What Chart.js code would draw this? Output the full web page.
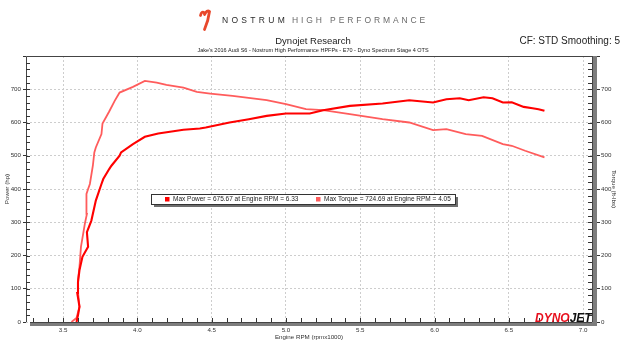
<!DOCTYPE html>
<html>
<head>
<meta charset="utf-8">
<script src="https://cdn.jsdelivr.net/npm/chart.js@4.4.1/dist/chart.umd.min.js"></script>
<style>
  html, body { margin: 0; padding: 0; background: #fff; }
  #wrap { width: 624px; height: 351px; }
</style>
</head>
<body>
<div id="wrap"><canvas id="mycanvas" width="624" height="351"></canvas></div>
<script>
// values (rpm x1000)
var powerRpm = [3.59, 3.60, 3.61, 3.595, 3.60, 3.61, 3.63, 3.668, 3.66, 3.69, 3.72, 3.758, 3.77, 3.81, 3.825, 3.88, 3.89, 3.97, 4.05, 4.14, 4.31, 4.42, 4.46, 4.62, 4.75, 4.87, 5.0, 5.16, 5.25, 5.43, 5.65, 5.83, 5.99, 6.08, 6.17, 6.23, 6.33, 6.39, 6.46, 6.52, 6.60, 6.66, 6.70, 6.74];
var power    = [0, 20, 46, 87, 120, 156, 196, 226, 270, 305, 365, 415, 430, 460, 470, 500, 510, 535, 557, 567, 578, 582, 585, 600, 610, 620, 627, 627, 637, 650, 657, 667, 660, 670, 673, 667, 676, 673, 660, 661, 647, 643, 640, 635];

var torqueRpm = [3.556, 3.59, 3.61, 3.60, 3.60, 3.61, 3.62, 3.646, 3.66, 3.657, 3.668, 3.68, 3.70, 3.71, 3.72, 3.758, 3.765, 3.81, 3.847, 3.88, 3.97, 4.05, 4.13, 4.195, 4.31, 4.40, 4.49, 4.64, 4.87, 5.0, 5.135, 5.25, 5.43, 5.65, 5.83, 5.99, 6.08, 6.21, 6.32, 6.46, 6.52, 6.61, 6.74];
var torque    = [0, 12, 46, 90, 126, 166, 226, 295, 325, 385, 400, 415, 470, 510, 525, 565, 597, 633, 665, 690, 707, 725, 720, 713, 705, 692, 687, 680, 667, 655, 640, 637, 625, 610, 600, 577, 580, 565, 560, 535, 530, 515, 495];

var xTicks = [3.5, 4.0, 4.5, 5.0, 5.5, 6.0, 6.5, 7.0];
var legendLabels = ["Max Power = 675.67 at Engine RPM = 6.33", "Max Torque = 724.69 at Engine RPM = 4.05"];

var titleText = "Dynojet Research";
var subTitleText = "Jake's 2016 Audi S6 - Nostrum High Performance HPFPs - E70 - Dyno Spectrum Stage 4 OTS";
var cfText = "CF: STD Smoothing: 5";

function pts(xs, ys){
	var out = [];
	for(var i in xs){
		out.push({x: xs[i], y: ys[i]});
	}
	return out;
}

var FONT = "'Liberation Sans', Arial, sans-serif";

var headerPlugin = {
	id: 'header',
	beforeDraw: function(chart){
		var ctx = chart.ctx;
		ctx.save();
		ctx.fillStyle = '#fff';
		ctx.fillRect(0, 0, chart.width, chart.height);

		// logo mark
		ctx.strokeStyle = '#e8482c';
		ctx.lineWidth = 2.8;
		ctx.lineCap = 'round';
		ctx.beginPath();
		ctx.moveTo(200.5, 15.5);
		ctx.quadraticCurveTo(201.5, 10.5, 204.5, 13);
		ctx.stroke();
		ctx.beginPath();
		ctx.moveTo(204.5, 14.5);
		ctx.quadraticCurveTo(207, 9.5, 209.5, 11.5);
		ctx.quadraticCurveTo(208.5, 20, 204.5, 29.5);
		ctx.stroke();

		ctx.textBaseline = 'middle';
		ctx.textAlign = 'left';
		ctx.font = "8.5px " + FONT;
		ctx.letterSpacing = '3.3px';
		ctx.fillStyle = '#2b2b2b';
		ctx.fillText("NOSTRUM", 222, 20.5);
		ctx.fillStyle = '#6a6a6a';
		ctx.letterSpacing = '2.9px';
		ctx.fillText("HIGH PERFORMANCE", 292, 20.5);
		ctx.letterSpacing = '0px';

		ctx.fillStyle = '#222';
		ctx.textAlign = 'center';
		ctx.font = "9.5px " + FONT;
		ctx.fillText(titleText, 313, 41);
		ctx.font = "5.5px " + FONT;
		ctx.fillText(subTitleText, 313, 50.5);
		ctx.textAlign = 'right';
		ctx.font = "10px " + FONT;
		ctx.fillText(cfText, 620, 41);
		ctx.restore();
	}
};

var framePlugin = {
	id: 'frame',
	afterDatasetsDraw: function(chart){
		var ctx = chart.ctx;
		var a = chart.chartArea;
		var xs = chart.scales.x, ys = chart.scales.y;
		ctx.save();

		// top + left border
		ctx.strokeStyle = '#444';
		ctx.lineWidth = 1;
		ctx.beginPath();
		ctx.moveTo(a.left + 0.5, a.bottom);
		ctx.lineTo(a.left + 0.5, a.top + 0.5);
		ctx.lineTo(a.right, a.top + 0.5);
		ctx.stroke();

		// minor ticks on y sides
		ctx.strokeStyle = '#333';
		ctx.beginPath();
		for(var v = 20; v < 800; v += 20){
			var py = Math.round(ys.getPixelForValue(v)) + 0.5;
			ctx.moveTo(a.left, py); ctx.lineTo(a.left + 4, py);
			ctx.moveTo(a.right - 4, py); ctx.lineTo(a.right, py);
		}
		// minor ticks on x
		for(var r = 3.3; r < 7.05; r += 0.1){
			var px = Math.round(xs.getPixelForValue(r)) + 0.5;
			ctx.moveTo(px, a.bottom); ctx.lineTo(px, a.bottom - 4);
		}
		ctx.stroke();

		// grey bars
		ctx.fillStyle = '#7d7d7d';
		ctx.fillRect(a.right, a.top, 5, a.bottom - a.top + 4);
		ctx.fillRect(30, a.bottom, a.right + 5 - 30, 4);
		ctx.fillStyle = '#444';
		ctx.fillRect(30, a.bottom, a.right - 30, 1);
		ctx.fillRect(a.right, a.top, 1, a.bottom - a.top);

		// legend box
		var bx = 151, by = 194, bw = 304, bh = 10;
		ctx.fillStyle = '#6e6e6e';
		ctx.fillRect(bx + 3, by + 3, bw, bh);
		ctx.fillStyle = '#fff';
		ctx.fillRect(bx, by, bw, bh);
		ctx.strokeStyle = '#333';
		ctx.strokeRect(bx + 0.5, by + 0.5, bw, bh);
		ctx.font = "6.5px " + FONT;
		ctx.textBaseline = 'middle';
		ctx.textAlign = 'left';
		var lx = [165, 316];
		for(var i = 0; i < legendLabels.length; i++){
			ctx.fillStyle = chart.data.datasets[i].borderColor;
			ctx.fillRect(lx[i], by + 3, 4.5, 4.5);
			ctx.fillStyle = '#222';
			ctx.fillText(legendLabels[i], lx[i] + 8, by + 5.7);
		}

		// dynojet mark
		ctx.font = "italic bold 12px " + FONT;
		ctx.textBaseline = 'alphabetic';
		ctx.fillStyle = '#e8101e';
		ctx.fillText("DYNO", 535, 321.5);
		var w = ctx.measureText("DYNO").width;
		ctx.fillStyle = '#111';
		ctx.fillText("JET", 535 + w, 321.5);
		ctx.restore();
	}
};

var tickFont = {family: FONT, size: 6.2};

var chartdata = {
	datasets: [
		{
			label: "Power",
			borderColor: "rgba(255, 0, 0, 1)",
			backgroundColor: "rgba(255, 0, 0, 1)",
			borderWidth: 2.1,
			pointRadius: 0,
			yAxisID: 'y',
			data: pts(powerRpm, power)
		},
		{
			label: "Torque",
			borderColor: "rgba(255, 92, 92, 1)",
			backgroundColor: "rgba(255, 92, 92, 1)",
			borderWidth: 1.8,
			pointRadius: 0,
			yAxisID: 'y2',
			data: pts(torqueRpm, torque)
		}
	]
};

var ctx = document.getElementById('mycanvas');

var dynoGraph = new Chart(ctx, {
	type: 'line',
	data: chartdata,
	plugins: [headerPlugin, framePlugin],
	options: {
		responsive: false,
		animation: false,
		layout: { padding: { top: 56, left: 0, right: 0, bottom: 0 } },
		plugins: {
			legend: { display: false },
			tooltip: { enabled: false }
		},
		scales: {
			x: {
				type: 'linear',
				min: 3.25,
				max: 7.06,
				afterBuildTicks: function(scale){
					scale.ticks = xTicks.map(function(v){ return {value: v}; });
				},
				afterFit: function(scale){ scale.height = 29; },
				ticks: {
					font: tickFont, color: '#333', padding: 5, maxRotation: 0,
					callback: function(v){ return v.toFixed(1); }
				},
				grid: { color: '#cdcdcd', drawTicks: false },
				border: { display: false, dash: [2, 2] },
				title: {
					display: true, text: 'Engine RPM (rpmx1000)',
					font: tickFont, color: '#333', padding: { top: 0, bottom: 10 }
				}
			},
			y: {
				position: 'left',
				min: 0,
				max: 800,
				afterFit: function(scale){ scale.width = 26; },
				ticks: {
					stepSize: 100, font: tickFont, color: '#333', padding: 2,
					callback: function(v){ return v >= 800 ? '' : v; }
				},
				grid: { color: '#cdcdcd', tickColor: '#333', tickLength: 3 },
				border: { display: false, dash: [2, 2] },
				title: {
					display: true, text: 'Power (hp)',
					font: tickFont, color: '#333', padding: { top: 3.5, bottom: 0 }
				}
			},
			y2: {
				position: 'right',
				min: 0,
				max: 800,
				afterFit: function(scale){ scale.width = 32; },
				ticks: {
					stepSize: 100, font: tickFont, color: '#333', padding: 1,
					callback: function(v){ return v >= 800 ? '' : v; }
				},
				grid: { drawOnChartArea: false, tickColor: '#333', tickLength: 8 },
				border: { display: false },
				title: {
					display: true, text: 'Torque (ft-lbs)',
					font: tickFont, color: '#333', padding: { top: 6.5, bottom: 0 }
				}
			}
		}
	}
});
</script>
</body>
</html>
